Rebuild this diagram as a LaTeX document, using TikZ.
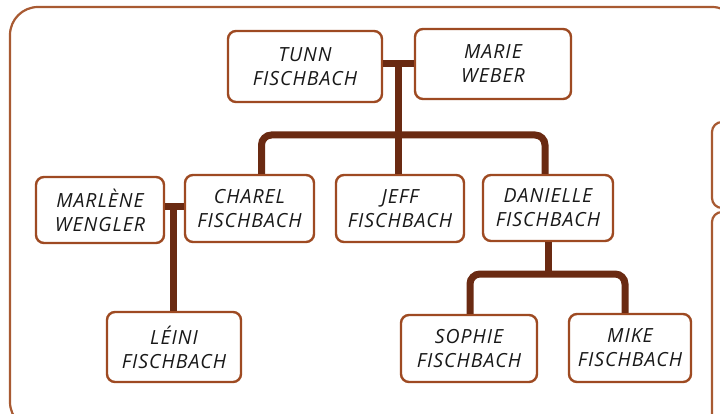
\documentclass[tikz,border=0pt]{standalone}
\usepackage{fontspec}
\setmainfont{Open Sans}
\newfontfamily\handfont[LetterSpace=5]{Open Sans}
\begin{document}
\begin{tikzpicture}[x=1pt,y=-1pt,
  person/.style={draw=boxbrown, line width=2.4pt, rounded corners=8pt, fill=white,
    align=center, inner sep=0pt, font=\handfont\itshape\fontsize{19.5}{24}\selectfont, text=black!90},
  conn/.style={draw=connbrown, line width=7pt},
  frame/.style={draw=framebrown, line width=2.2pt, rounded corners=28pt}]
\definecolor{boxbrown}{HTML}{9E4A22}
\definecolor{connbrown}{HTML}{6A2A12}
\definecolor{framebrown}{HTML}{A85A32}
\useasboundingbox (0,0) rectangle (720,414);
\clip (0,0) rectangle (720,414);
\fill[white] (0,0) rectangle (720,414);
% frames
\draw[frame] (10,7) rectangle (740,430);
\draw[frame, rounded corners=10pt] (712,122) rectangle (760,208);
\draw[frame, rounded corners=10pt] (712,212) rectangle (760,440);
% people
\node[person, minimum width=154pt, minimum height=71pt] (tunn) at (305,66.5) {TUNN\\FISCHBACH};
\node[person, minimum width=156pt, minimum height=70pt] (marie) at (493,64) {MARIE\\WEBER};
\node[person, minimum width=128pt, minimum height=66pt] (marlene) at (100,210) {MARLÈNE\\WENGLER};
\node[person, minimum width=129pt, minimum height=67pt] (charel) at (249.5,208.5) {CHAREL\\FISCHBACH};
\node[person, minimum width=128pt, minimum height=67pt] (jeff) at (400,208.5) {JEFF\\FISCHBACH};
\node[person, minimum width=130pt, minimum height=66pt] (danielle) at (548,208) {DANIELLE\\FISCHBACH};
\node[person, minimum width=134pt, minimum height=70pt] (leini) at (174,347) {LÉINI\\FISCHBACH};
\node[person, minimum width=136pt, minimum height=67pt] (sophie) at (469,348.5) {SOPHIE\\FISCHBACH};
\node[person, minimum width=122pt, minimum height=68pt] (mike) at (630,348) {MIKE\\FISCHBACH};
% connectors
\coordinate (m1) at (398,64);
\coordinate (m2) at (173,207);
\coordinate (hb) at (400,135);
\coordinate (d1) at (548,274);
\draw[conn] (m1 -| tunn.east) -- (m1 -| marie.west);
\draw[conn] (m1) -- (m1 |- jeff.north);
\draw[conn, rounded corners=10pt] ([xshift=12pt]charel.north) |- (hb) -| ([xshift=-3pt]danielle.north);
\draw[conn] (m2 -| marlene.east) -- (m2 -| charel.west);
\draw[conn] (m2) -- (m2 |- leini.north);
\draw[conn] (danielle.south) -- (d1);
\draw[conn, rounded corners=10pt] ([xshift=1pt]sophie.north) |- (d1) -| ([xshift=-5pt]mike.north);
\end{tikzpicture}
\end{document}
